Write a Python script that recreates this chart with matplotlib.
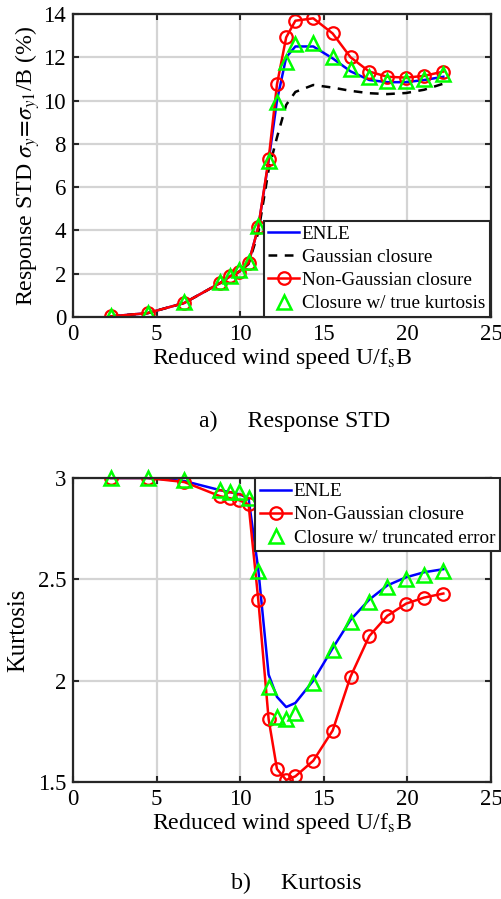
import matplotlib
matplotlib.use("Agg")
import matplotlib.pyplot as plt

plt.rcParams['font.family'] = ['Liberation Serif', 'DejaVu Serif']
plt.rcParams['mathtext.fontset'] = 'stix'

# ---------------- data ----------------
x_speed = [2.27, 4.47, 6.66, 8.8, 9.4, 9.95, 10.5, 11.08, 11.7, 12.2, 12.75, 13.3,
           14.37, 15.53, 16.6, 17.72, 18.8, 19.92, 21.0, 22.15]

std_enle = [0.03, 0.18, 0.65, 1.57, 1.88, 2.1, 2.5, 4.14, 7.2, 10.0, 12.0, 12.5,
            12.5, 11.95, 11.35, 10.95, 10.85, 10.85, 10.95, 11.1]
std_gauss = [0.03, 0.18, 0.65, 1.57, 1.88, 2.1, 2.45, 3.9, 6.8, 8.3, 9.8, 10.4,
             10.72, 10.6, 10.45, 10.34, 10.3, 10.35, 10.5, 10.78]
std_nongauss = [0.03, 0.18, 0.65, 1.57, 1.88, 2.1, 2.5, 4.14, 7.29, 10.75, 12.92, 13.69,
                13.8, 13.1, 12.0, 11.34, 11.1, 11.06, 11.14, 11.34]
std_truekurt = [0.05, 0.2, 0.68, 1.6, 1.9, 2.15, 2.55, 4.2, 7.2, 9.95, 11.8, 12.6,
                12.68, 12.03, 11.45, 11.08, 10.92, 10.92, 11.0, 11.23]

kurt_enle = [3.0, 3.0, 2.985, 2.94, 2.93, 2.92, 2.9, 2.55, 2.03, 1.92, 1.87, 1.89,
             2.0, 2.16, 2.3, 2.4, 2.47, 2.51, 2.535, 2.55]
kurt_nongauss = [3.0, 3.0, 2.98, 2.91, 2.9, 2.89, 2.87, 2.40, 1.81, 1.564, 1.51, 1.528,
                 1.605, 1.754, 2.02, 2.22, 2.32, 2.38, 2.41, 2.43]
kurt_trunc = [3.0, 3.0, 2.99, 2.94, 2.93, 2.93, 2.9, 2.54, 1.97, 1.82, 1.81, 1.84,
              1.99, 2.15, 2.29, 2.39, 2.46, 2.5, 2.52, 2.54]

xticks = [0, 5, 10, 15, 20, 25]
std_yticks = [0, 2, 4, 6, 8, 10, 12, 14]
kurt_yticks = [1.5, 2, 2.5, 3]
kurt_yticklabels = ['1.5', '2', '2.5', '3']

# ---------------- style ----------------
W, H = 501, 899
fig = plt.figure(figsize=(W / 100, H / 100), dpi=100)

TICK_FS = 16.5
LEG_FS = 13.8
LAB_FS = 17.2

RED = '#ff0000'
GREEN = '#00ff00'
BLUE = '#0000ff'


def style_axes(ax):
    ax.grid(True, color='#d4d4d4', lw=1.6)
    ax.set_axisbelow(True)
    for s in ax.spines.values():
        s.set_linewidth(1.6)
        s.set_color('#262626')
    ax.tick_params(direction='in', length=4, width=1.5, top=True, right=True,
                   labelsize=TICK_FS, color='#262626', pad=5)
    ax.set_xlim(0, 25)
    ax.set_xticks(xticks)


def fx(px):
    return px / W


def fy(py):
    return 1 - py / H

# ---------- top panel ----------
ax1 = fig.add_axes([fx(73), fy(317), fx(491 - 73), (317 - 14) / H])
style_axes(ax1)
ax1.set_ylim(0, 14)
ax1.set_yticks(std_yticks)
l1, = ax1.plot(x_speed, std_enle, color=BLUE, lw=1.8)
l2, = ax1.plot(x_speed, std_gauss, color='black', lw=1.8, ls=(0, (3.5, 3)))
l3, = ax1.plot(x_speed, std_nongauss, color=RED, lw=1.8, marker='o', ms=9,
               mfc='none', mec=RED, mew=1.6)
l4, = ax1.plot(x_speed, std_truekurt, ls='none', marker='^', ms=10,
               mfc='none', mec=GREEN, mew=1.8)
ax1.set_ylabel(r'Response STD $\sigma_{y}\!=\!\sigma_{y1}$/B (%)', fontsize=LAB_FS, labelpad=1)
ax1.set_xlabel(r'Reduced wind speed U/f$_{\rm s}$B', fontsize=LAB_FS, labelpad=1)
leg1 = ax1.legend([l1, l2, l3, l4],
                  ['ENLE', 'Gaussian closure', 'Non-Gaussian closure',
                   'Closure w/ true kurtosis'],
                  loc='lower right', bbox_to_anchor=(fx(490), fy(317)),
                  bbox_transform=fig.transFigure, fontsize=LEG_FS,
                  handlelength=1.6, handletextpad=0.15, labelspacing=0.3,
                  borderpad=0.25, borderaxespad=0, fancybox=False, frameon=True,
                  edgecolor='#262626', framealpha=1)
leg1.get_frame().set_linewidth(1.5)

fig.text(fx(295), fy(421), 'a)     Response STD', fontsize=LAB_FS, ha='center', va='center')

# ---------- bottom panel ----------
ax2 = fig.add_axes([fx(73), fy(782), fx(491 - 73), (782 - 478) / H])
style_axes(ax2)
ax2.set_ylim(1.5, 3)
ax2.set_yticks(kurt_yticks)
ax2.set_yticklabels(kurt_yticklabels)
m1, = ax2.plot(x_speed, kurt_enle, color=BLUE, lw=1.8)
m2, = ax2.plot(x_speed, kurt_nongauss, color=RED, lw=1.8, marker='o', ms=9,
               mfc='none', mec=RED, mew=1.6)
m3, = ax2.plot(x_speed, kurt_trunc, ls='none', marker='^', ms=10,
               mfc='none', mec=GREEN, mew=1.8, clip_on=False)
ax2.set_ylabel('Kurtosis', fontsize=LAB_FS + 0.5, labelpad=6)
ax2.set_xlabel(r'Reduced wind speed U/f$_{\rm s}$B', fontsize=LAB_FS, labelpad=1)
leg2 = ax2.legend([m1, m2, m3],
                  ['ENLE', 'Non-Gaussian closure', 'Closure w/ truncated error'],
                  loc='upper right', bbox_to_anchor=(fx(500), fy(478)),
                  bbox_transform=fig.transFigure, fontsize=LEG_FS,
                  handlelength=1.6, handletextpad=0.15, labelspacing=0.3,
                  borderpad=0.25, borderaxespad=0, fancybox=False, frameon=True,
                  edgecolor='#262626', framealpha=1)
leg2.get_frame().set_linewidth(1.5)

fig.text(fx(296), fy(883), 'b)     Kurtosis', fontsize=LAB_FS, ha='center', va='center')

fig.savefig('out.png', dpi=100)
